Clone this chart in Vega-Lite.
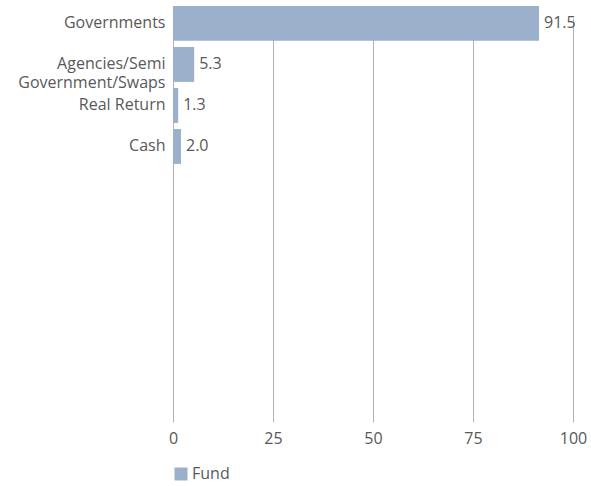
{
  "$schema": "https://vega.github.io/schema/vega-lite/v6.json",
  "autosize": "none",
  "width": 400,
  "height": 418,
  "padding": {"left": 173, "top": 5, "right": 18, "bottom": 63},
  "background": "white",
  "config": {
    "view": {"stroke": null},
    "font": "Open Sans",
    "axis": {"labelFont": "Open Sans", "labelColor": "#595959", "labelFontSize": 16}
  },
  "data": {
    "values": [
      {"category": "Governments", "value": 91.5, "series": "Fund"},
      {"category": "Agencies/Semi Government/Swaps", "value": 5.3, "series": "Fund"},
      {"category": "Real Return", "value": 1.3, "series": "Fund"},
      {"category": "Cash", "value": 2.0, "series": "Fund"}
    ]
  },
  "encoding": {
    "y": {
      "field": "category",
      "type": "nominal",
      "sort": null,
      "scale": {
        "domain": ["Governments", "Agencies/Semi Government/Swaps", "Real Return", "Cash", "_1", "_2", "_3", "_4", "_5", "_6"],
        "range": [1, 405],
        "paddingInner": 0.15,
        "paddingOuter": 0
      },
      "axis": {
        "title": null,
        "domain": false,
        "ticks": false,
        "grid": false,
        "labelPadding": 8,
        "labelLineHeight": 19,
        "labelExpr": "datum.label == 'Agencies/Semi Government/Swaps' ? ['Agencies/Semi', 'Government/Swaps'] : (indexof(datum.label, '_') == 0 ? '' : datum.label)"
      }
    },
    "x": {
      "field": "value",
      "type": "quantitative",
      "scale": {"domain": [0, 100], "nice": false},
      "axis": {
        "title": null,
        "values": [0, 25, 50, 75, 100],
        "domain": false,
        "ticks": false,
        "grid": true,
        "gridColor": "#b3b3b3",
        "gridWidth": 1,
        "labelPadding": 7,
        "labelFlush": false
      }
    }
  },
  "layer": [
    {
      "mark": {"type": "bar", "color": "#9bb0ca"},
      "encoding": {
        "color": {
          "field": "series",
          "type": "nominal",
          "scale": {"range": ["#9bb0ca"]},
          "legend": {
            "title": null,
            "orient": "none",
            "legendX": 0,
            "legendY": 461,
            "symbolType": "square",
            "symbolSize": 169,
            "symbolStrokeWidth": 0,
            "labelFont": "Open Sans",
            "labelFontSize": 16,
            "labelColor": "#595959",
            "labelOffset": 3
          }
        }
      }
    },
    {
      "mark": {"type": "text", "align": "left", "baseline": "middle", "dx": 5, "font": "Open Sans", "fontSize": 16, "color": "#595959"},
      "encoding": {
        "text": {"field": "value", "type": "quantitative", "format": ".1f"}
      }
    }
  ]
}
